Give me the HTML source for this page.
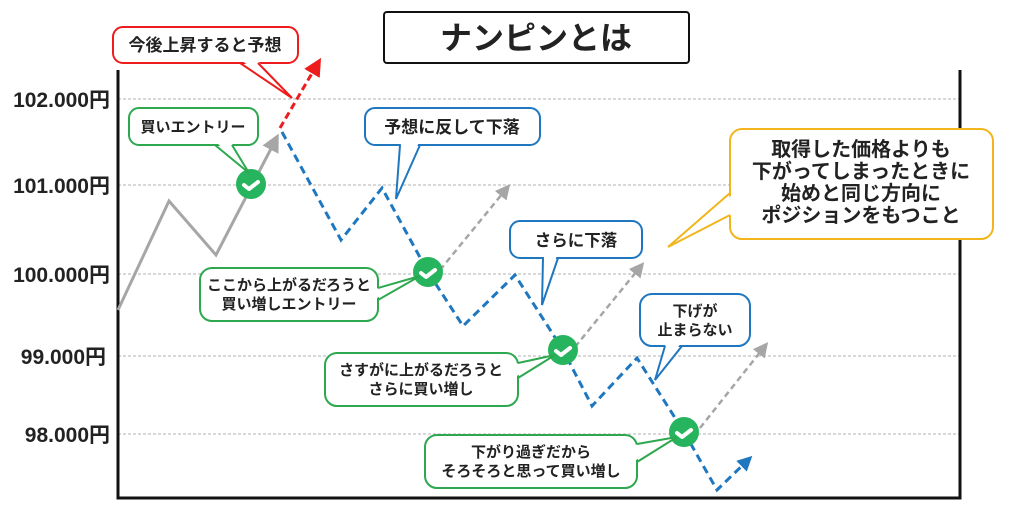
<!DOCTYPE html>
<html><head><meta charset="utf-8"><style>
html,body{margin:0;padding:0;background:#fff;}
svg{display:block;}
text{font-family:"Liberation Sans","Noto Sans CJK JP",sans-serif;font-weight:bold;fill:#222;}
</style></head><body>
<svg width="1024" height="527" viewBox="0 0 1024 527" xmlns="http://www.w3.org/2000/svg">
<defs>
<marker id="ag" markerWidth="6" markerHeight="6" refX="4" refY="3" orient="auto" markerUnits="strokeWidth"><path d="M0,0 L6,3 L0,6 z" fill="#a6a6a6"/></marker>
<marker id="ar" markerWidth="6" markerHeight="6" refX="4" refY="3" orient="auto" markerUnits="strokeWidth"><path d="M0,0 L6,3 L0,6 z" fill="#ee1c1c"/></marker>
<marker id="ab" markerWidth="5" markerHeight="5" refX="3" refY="2.5" orient="auto" markerUnits="strokeWidth"><path d="M0,0 L5,2.5 L0,5 z" fill="#1f77c0"/></marker>
</defs>
<g stroke="#b0b0b0" stroke-width="1" stroke-dasharray="3,2">
<line x1="118" y1="99" x2="960" y2="99"/>
<line x1="118" y1="185" x2="960" y2="185"/>
<line x1="118" y1="274" x2="960" y2="274"/>
<line x1="118" y1="356" x2="960" y2="356"/>
<line x1="118" y1="434" x2="960" y2="434"/>
</g>
<path d="M118,70 V498 H960 V70" fill="none" stroke="#111" stroke-width="3"/>
<g font-size="21" text-anchor="end">
<text x="110" y="107">102.000円</text>
<text x="110" y="193">101.000円</text>
<text x="110" y="282">100.000円</text>
<text x="106" y="364">99.000円</text>
<text x="110" y="442">98.000円</text>
</g>
<polyline points="118,310 169,201 216,255 276,139" fill="none" stroke="#a6a6a6" stroke-width="3" marker-end="url(#ag)"/>
<line x1="280" y1="128" x2="318" y2="63" stroke="#ee1c1c" stroke-width="3" stroke-dasharray="7,4" marker-end="url(#ar)"/>
<g stroke="#a6a6a6" stroke-width="2.5" stroke-dasharray="6,4" fill="none">
<line x1="440" y1="270" x2="507" y2="188" marker-end="url(#ag)"/>
<line x1="575" y1="347" x2="641" y2="266" marker-end="url(#ag)"/>
<line x1="700" y1="428" x2="765" y2="346" marker-end="url(#ag)"/>
</g>
<polyline points="282,132 341,240 382,188 428,272 463,326 515,275 563,350 592,406 637,358 684,432 717,490 748,460" fill="none" stroke="#1f77c0" stroke-width="3" stroke-dasharray="8,5" marker-end="url(#ab)"/>
<g>
<circle cx="251" cy="184" r="15" fill="#27b45e"/>
<circle cx="428" cy="272" r="15" fill="#27b45e"/>
<circle cx="563" cy="350" r="15" fill="#27b45e"/>
<circle cx="684" cy="432" r="15" fill="#27b45e"/>
<g fill="none" stroke="#fff" stroke-width="4" stroke-linecap="round" stroke-linejoin="round">
<path d="M244,185 l5,4 l9,-7"/><path d="M421,273 l5,4 l9,-7"/><path d="M556,351 l5,4 l9,-7"/><path d="M677,433 l5,4 l9,-7"/>
</g>
</g>
<rect x="384" y="12" width="305" height="51" rx="3" fill="#fff" stroke="#111" stroke-width="2"/>
<text x="536" y="49" font-size="32" text-anchor="middle" fill="#111">ナンピンとは</text>
<g stroke-width="2">
<rect x="113" y="27" width="185" height="36" rx="10" fill="#fff" stroke="#ee1c1c"/>
<polygon points="241,60 257,60 292,98" fill="#fff"/>
<polyline points="240,63 292,98 258,63" fill="none" stroke="#ee1c1c"/>
<rect x="129" y="108" width="129" height="37" rx="10" fill="#fff" stroke="#2ea84f"/>
<polygon points="216,142 231,142 249,173" fill="#fff"/>
<polyline points="215,145 249,173 232,145" fill="none" stroke="#2ea84f"/>
<rect x="365" y="108" width="175" height="37" rx="10" fill="#fff" stroke="#1f77c0"/>
<polygon points="401,142 419,142 396,199" fill="#fff"/>
<polyline points="400,145 396,199 420,145" fill="none" stroke="#1f77c0"/>
<rect x="730" y="129" width="263" height="110" rx="12" fill="#fff" stroke="#f2b61c"/>
<polygon points="733,194 733,214 668,247" fill="#fff"/>
<polyline points="730,193 668,247 730,215" fill="none" stroke="#f2b61c"/>
<rect x="510" y="221" width="132" height="37" rx="10" fill="#fff" stroke="#1f77c0"/>
<polygon points="544,255 557,255 542,305" fill="#fff"/>
<polyline points="543,258 542,305 558,258" fill="none" stroke="#1f77c0"/>
<rect x="200" y="268" width="178" height="53" rx="12" fill="#fff" stroke="#2ea84f"/>
<polygon points="375,289 375,299 420,276" fill="#fff"/>
<polyline points="378,288 420,276 378,300" fill="none" stroke="#2ea84f"/>
<rect x="640" y="294" width="110" height="52" rx="12" fill="#fff" stroke="#1f77c0"/>
<polygon points="666,343 681,343 655,380" fill="#fff"/>
<polyline points="665,346 655,380 682,346" fill="none" stroke="#1f77c0"/>
<rect x="325" y="353" width="193" height="53" rx="12" fill="#fff" stroke="#2ea84f"/>
<polygon points="515,364 515,377 555,355" fill="#fff"/>
<polyline points="518,363 555,355 518,378" fill="none" stroke="#2ea84f"/>
<rect x="425" y="435" width="212" height="53" rx="12" fill="#fff" stroke="#2ea84f"/>
<polygon points="634,445 634,461 677,437" fill="#fff"/>
<polyline points="637,444 677,437 637,462" fill="none" stroke="#2ea84f"/>
</g>
<g font-size="15" text-anchor="middle">
<text x="205" y="51" font-size="17">今後上昇すると予想</text>
<text x="193" y="132">買いエントリー</text>
<text x="452" y="133" font-size="17">予想に反して下落</text>
<text x="576" y="246" font-size="16.5">さらに下落</text>
<text x="289" y="290">ここから上がるだろうと</text>
<text x="289" y="309">買い増しエントリー</text>
<text x="695" y="316">下げが</text>
<text x="695" y="335">止まらない</text>
<text x="421" y="375">さすがに上がるだろうと</text>
<text x="421" y="394">さらに買い増し</text>
<text x="531" y="457">下がり過ぎだから</text>
<text x="531" y="476">そろそろと思って買い増し</text>
</g>
<g font-size="20" text-anchor="middle">
<text x="861" y="156">取得した価格よりも</text>
<text x="861" y="178">下がってしまったときに</text>
<text x="861" y="200">始めと同じ方向に</text>
<text x="861" y="222">ポジションをもつこと</text>
</g>
</svg>
</body></html>
